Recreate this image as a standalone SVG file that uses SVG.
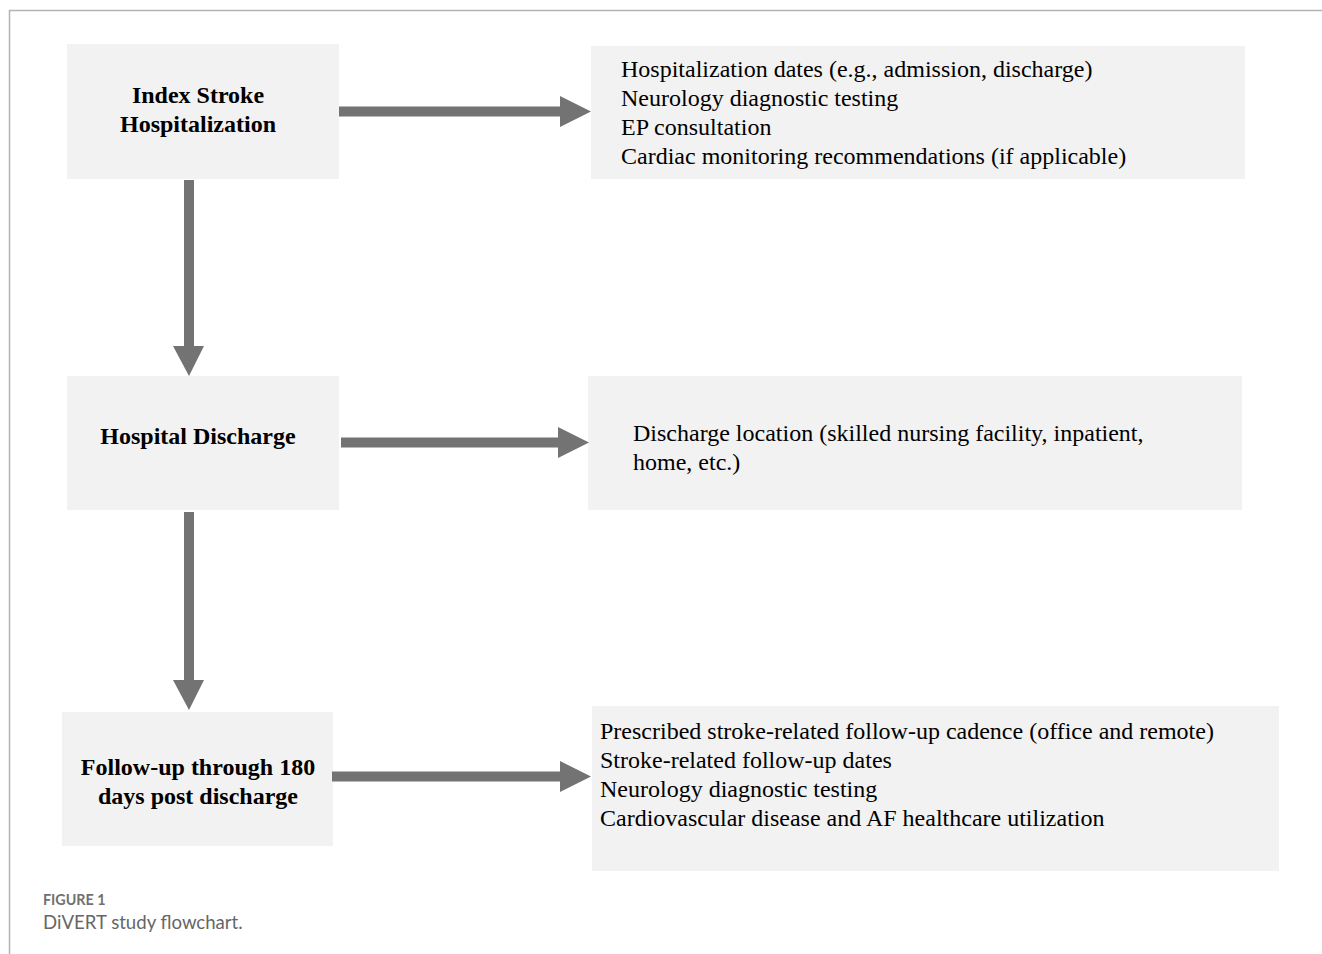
<svg xmlns="http://www.w3.org/2000/svg" width="1322" height="954" viewBox="0 0 1322 954">
<defs>
<style>
.box{fill:#f2f2f2}
.bt{font-family:"Liberation Serif",serif;font-weight:bold;font-size:24px;fill:#000;text-anchor:middle}
.rt{font-family:"Liberation Serif",serif;font-size:24px;fill:#000}
.conn{fill:#737373}
.frame{stroke:#b3b3b3;stroke-width:1.5;fill:none}
</style>
</defs>
<rect width="1322" height="954" fill="#fff"/>
<path class="frame" d="M9.5 954 V10.5 H1322"/>
<g id="n1"><rect class="box" x="67" y="44" width="272" height="135"/>
<text class="bt" x="198" y="103">Index Stroke</text>
<text class="bt" x="198" y="132">Hospitalization</text></g>
<g id="r1"><rect class="box" x="591" y="46" width="654" height="133"/>
<text class="rt" x="621" y="77">Hospitalization dates (e.g., admission, discharge)</text>
<text class="rt" x="621" y="106">Neurology diagnostic testing</text>
<text class="rt" x="621" y="135">EP consultation</text>
<text class="rt" x="621" y="164">Cardiac monitoring recommendations (if applicable)</text></g>
<g id="n2"><rect class="box" x="67" y="376" width="272" height="134"/>
<text class="bt" x="198" y="444">Hospital Discharge</text></g>
<g id="r2"><rect class="box" x="588" y="376" width="654" height="134"/>
<text class="rt" x="633" y="441">Discharge location (skilled nursing facility, inpatient,</text>
<text class="rt" x="633" y="470">home, etc.)</text></g>
<g id="n3"><rect class="box" x="62" y="712" width="271" height="134"/>
<text class="bt" x="198" y="775">Follow-up through 180</text>
<text class="bt" x="198" y="804">days post discharge</text></g>
<g id="r3"><rect class="box" x="592" y="706" width="687" height="165"/>
<text class="rt" x="600" y="739">Prescribed stroke-related follow-up cadence (office and remote)</text>
<text class="rt" x="600" y="768">Stroke-related follow-up dates</text>
<text class="rt" x="600" y="797">Neurology diagnostic testing</text>
<text class="rt" x="600" y="826">Cardiovascular disease and AF healthcare utilization</text></g>
<g id="connectors">
<polygon class="conn" points="339,106.5 560,106.5 560,96 591,111.5 560,127 560,116.5 339,116.5"/>
<polygon class="conn" points="341,437.5 558,437.5 558,427 589,442.5 558,458 558,447.5 341,447.5"/>
<polygon class="conn" points="332,771.5 560,771.5 560,761 591,776.5 560,792 560,781.5 332,781.5"/>
<polygon class="conn" points="184,180 194,180 194,346 204,346 189,376 173,346 184,346"/>
<polygon class="conn" points="184,512 194,512 194,680 204,680 189,710 173,680 184,680"/>
</g>
<g id="caption">
<text x="43" y="905" font-family="Lato,'Open Sans',sans-serif" font-weight="bold" font-size="14.3" fill="#707070">FIGURE 1</text>
<text x="43" y="929" font-family="Lato,'Open Sans',sans-serif" font-size="18.6" fill="#666">DiVERT study flowchart.</text>
</g>
</svg>
